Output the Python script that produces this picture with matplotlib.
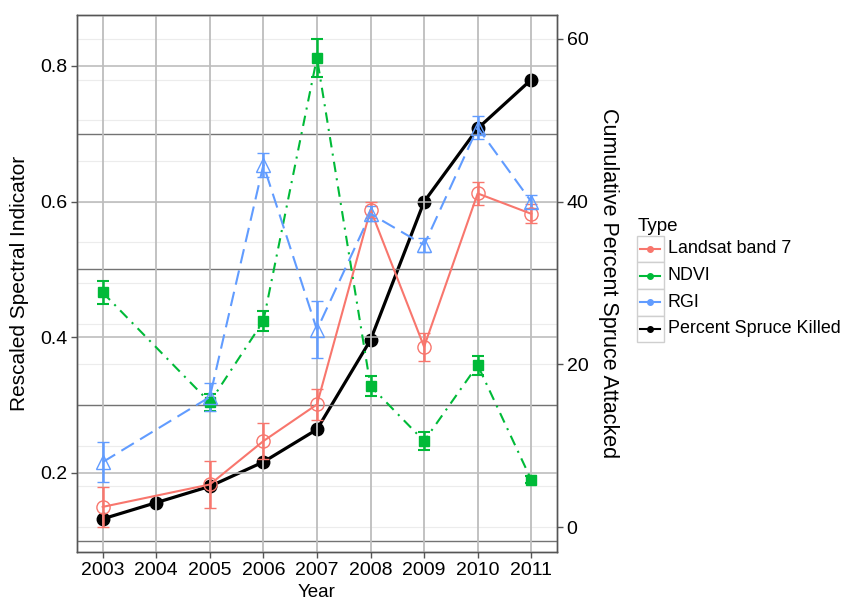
import matplotlib
matplotlib.use("Agg")
import matplotlib.pyplot as plt
from matplotlib.lines import Line2D
from matplotlib.patches import Rectangle

plt.rcParams["font.family"] = ["Liberation Sans", "DejaVu Sans"]

years = [2003, 2004, 2005, 2006, 2007, 2008, 2009, 2010, 2011]

# spectral indicators (left axis); 2004 not sampled
idx_years = [2003, 2005, 2006, 2007, 2008, 2009, 2010, 2011]
landsat = [0.150, 0.183, 0.247, 0.301, 0.588, 0.386, 0.612, 0.582]
landsat_err = [0.030, 0.035, 0.026, 0.023, 0.012, 0.021, 0.017, 0.014]
ndvi = [0.466, 0.304, 0.424, 0.812, 0.328, 0.247, 0.359, 0.190]
ndvi_err = [0.017, 0.012, 0.015, 0.028, 0.015, 0.013, 0.014, 0.005]
rgi = [0.216, 0.312, 0.654, 0.411, 0.582, 0.536, 0.709, 0.600]
rgi_err = [0.029, 0.020, 0.018, 0.042, 0.011, 0.011, 0.017, 0.009]

# cumulative percent spruce killed (right axis)
spruce = [1.0, 3.0, 5.0, 8.0, 12.0, 23.0, 40.0, 49.0, 55.0]

RED, GREEN, BLUE = "#F8766D", "#00BA38", "#619CFF"
labels = ["Landsat band 7", "NDVI", "RGI", "Percent Spruce Killed"]
colors = [RED, GREEN, BLUE, "black"]

fig = plt.figure(figsize=(8.45, 6.0), dpi=100)
ax = fig.add_axes([0.0911, 0.08, 0.568, 0.895])
ax2 = ax.twinx()

ax.set_xlim(2002.52, 2011.48)
ax.set_ylim(0.0835, 0.875)
ax2.set_ylim(-3.07, 62.95)

# grid: faint lines from right-axis minor breaks, then left-axis lines
for v in range(0, 65, 5):
    ax2.axhline(v, color="#ececec", lw=0.8, zorder=0)
for v in [0.2, 0.4, 0.6, 0.8]:
    ax.axhline(v, color="#b8b8b8", lw=1.1, zorder=0.5)
for v in [0.1, 0.3, 0.5, 0.7]:
    ax.axhline(v, color="#737373", lw=1.0, zorder=0.5)
for yr in years:
    ax.axvline(yr, color="#bdbdbd", lw=1.3, zorder=0.5)

ax.errorbar(idx_years, landsat, yerr=landsat_err, color=RED, lw=1.5,
            marker="o", ms=9.5, mfc="none", mec=RED, mew=1.0,
            capsize=4, capthick=1.5, elinewidth=1.8, zorder=3)
ax.errorbar(idx_years, ndvi, yerr=ndvi_err, color=GREEN, lw=1.5,
            ls=(0, (5, 3, 1, 3)), marker="s", ms=7, mfc=GREEN, mec=GREEN,
            capsize=4, capthick=1.5, elinewidth=1.8, zorder=3)
ax.errorbar(idx_years, rgi, yerr=rgi_err, color=BLUE, lw=1.5,
            ls=(0, (7, 3.5)), marker="^", ms=10, mfc="none", mec=BLUE, mew=1.0,
            capsize=4, capthick=1.5, elinewidth=1.8, zorder=3)
ax2.plot(years, spruce, color="black", lw=2.3, marker="o", ms=9, zorder=4)

ax.set_xticks(years)
ax.set_xticklabels([str(y) for y in years])
ax.set_yticks([0.2, 0.4, 0.6, 0.8])
ax.set_yticklabels(["0.2", "0.4", "0.6", "0.8"])
ax2.set_yticks([0, 20, 40, 60])
for a in (ax, ax2):
    a.tick_params(labelsize=14, color="#555555", length=4, width=1, pad=3)
    for s in a.spines.values():
        s.set_color("#555555")
        s.set_linewidth(1.0)
ax.patch.set_alpha(0)
ax2.set_zorder(ax.get_zorder() - 1)
ax2.patch.set_facecolor("white")
ax.set_zorder(2)

ax.set_xlabel("Year", fontsize=13.5, labelpad=4)
ax.set_ylabel("Rescaled Spectral Indicator", fontsize=15, labelpad=8)
ax2.set_ylabel("Cumulative Percent Spruce Attacked", fontsize=15.5,
               rotation=270, labelpad=22)

# legend drawn in ggplot style
fig.text(0.754, 0.623, "Type", fontsize=13.5, ha="left", va="center")
key_w, key_h = 0.032, 0.0445
x0, y0 = 0.7535, 0.563
for i, (lab, c) in enumerate(zip(labels, colors)):
    yk = y0 - i * key_h
    fig.patches.append(Rectangle((x0, yk), key_w, key_h, transform=fig.transFigure,
                                 fill=True, facecolor="white", edgecolor="#cfcfcf",
                                 lw=1.0))
    fig.lines.append(Line2D([x0 + 0.004, x0 + key_w - 0.004], [yk + key_h / 2] * 2,
                            transform=fig.transFigure, color=c, lw=1.5))
    fig.lines.append(Line2D([x0 + key_w / 2], [yk + key_h / 2],
                            transform=fig.transFigure, color=c, marker="o", ms=4))
    fig.text(x0 + key_w + 0.005, yk + key_h / 2, lab, fontsize=12.9,
             ha="left", va="center")

fig.savefig("out.png", dpi=100, facecolor="white")
